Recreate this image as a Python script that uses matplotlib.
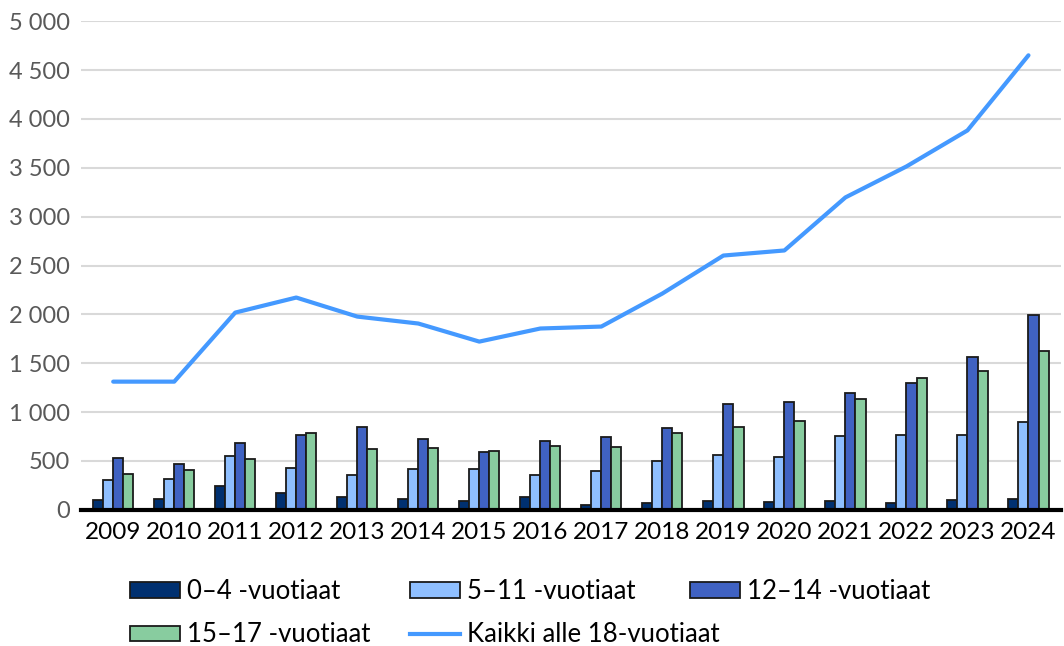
import numpy as np
import matplotlib.pyplot as plt
from matplotlib.patches import Patch
from matplotlib.lines import Line2D

years = [str(y) for y in range(2009, 2025)]
age_0_4 = [100, 110, 239, 171, 133, 106, 92, 126, 45, 70, 84, 77, 84, 70, 101, 108]
age_5_11 = [305, 311, 554, 428, 352, 420, 413, 352, 396, 495, 560, 540, 759, 769, 762, 896]
age_12_14 = [527, 465, 687, 766, 848, 728, 595, 700, 745, 834, 1087, 1101, 1194, 1300, 1560, 1992]
age_15_17 = [366, 407, 523, 783, 618, 633, 602, 656, 645, 789, 851, 906, 1132, 1344, 1420, 1629]
total = [1311, 1311, 2018, 2172, 1977, 1906, 1721, 1855, 1875, 2213, 2602, 2654, 3197, 3514, 3883, 4652]

labels = ['0\u20134 -vuotiaat', '5\u201311 -vuotiaat', '12\u201314 -vuotiaat',
          '15\u201317 -vuotiaat', 'Kaikki alle 18-vuotiaat']
colors = ['#003070', '#8fbfff', '#4062c2', '#88cc9f']
line_color = '#4499ff'

plt.rcParams['font.family'] = ['Lato', 'DejaVu Sans']

fig = plt.figure(figsize=(10.64, 6.46), dpi=100)
ax = fig.add_axes([0.076, 0.211, 0.921, 0.756])

x = np.arange(len(years))
width = 0.165
series = [age_0_4, age_5_11, age_12_14, age_15_17]
for i, (vals, c) in enumerate(zip(series, colors)):
    ax.bar(x + (i - 1.5) * width, vals, width, color=c,
           edgecolor='#1a1a1a', linewidth=1.3, zorder=3)

ax.plot(x, total, color=line_color, linewidth=3, zorder=4,
        solid_capstyle='round', solid_joinstyle='round')

ax.set_xlim(-0.53, len(years) - 0.47)
ax.set_ylim(0, 5000)
ax.set_yticks(range(0, 5001, 500))
ax.set_yticklabels([f'{v:,}'.replace(',', ' ') for v in range(0, 5001, 500)])
ax.set_xticks(x)
ax.set_xticklabels(years)
ax.yaxis.grid(True, color='#d9d9d9', linewidth=1.5, zorder=0)
ax.set_axisbelow(True)
for s in ['left', 'right', 'top']:
    ax.spines[s].set_visible(False)
ax.spines['bottom'].set_linewidth(3)
ax.spines['bottom'].set_color('black')
ax.spines['bottom'].set_zorder(5)
ax.tick_params(axis='y', length=0, labelsize=17, labelcolor='#595959', pad=8)
ax.tick_params(axis='x', length=0, labelsize=17.5, labelcolor='black', pad=9)

handles = [Patch(facecolor=c, edgecolor='#1a1a1a', linewidth=1.3) for c in colors]
handles.append(Line2D([], [], color=line_color, linewidth=3))

# Excel-style legend: fixed column positions, row-major order
columns = [[0, 3], [1, 4], [2]]
col_x = [130, 410, 690]
for idx, cx in zip(columns, col_x):
    leg = fig.legend([handles[i] for i in idx], [labels[i] for i in idx],
                     loc='upper left', bbox_to_anchor=(cx / 1064, 1 - 579 / 646),
                     frameon=False, fontsize=18.5, handlelength=1.95,
                     handleheight=0.55, handletextpad=0.25, labelspacing=0.72,
                     borderpad=0, borderaxespad=0)

fig.savefig('out.png', dpi=100)
